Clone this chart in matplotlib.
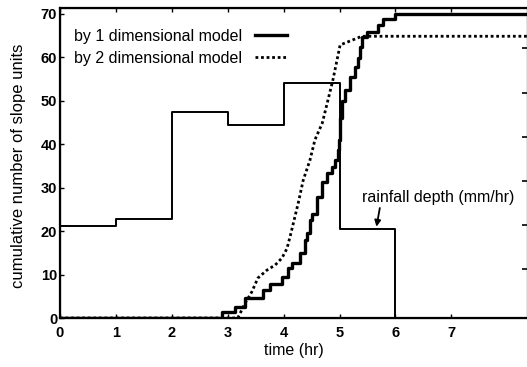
import numpy as np
import matplotlib
matplotlib.use('Agg')
import matplotlib.pyplot as plt

plt.rcParams['font.family'] = ['Liberation Sans', 'DejaVu Sans']

# rainfall depth (mm/hr), hourly steps, drawn on the left scale
rain_t = [0, 1, 2, 3, 4, 5, 6]
rain_v = [21.1, 22.8, 47.3, 44.5, 54.0, 20.5, 0]

# 1 dimensional model, cumulative slope units (staircase)
t1 = [0, 2.90, 3.13, 3.31, 3.63, 3.76, 3.97, 4.08, 4.15, 4.29, 4.38, 4.42,
      4.47, 4.51, 4.60, 4.69, 4.78, 4.87, 4.92, 4.97, 4.99, 5.01, 5.04, 5.10,
      5.19, 5.28, 5.33, 5.37, 5.40, 5.49, 5.69, 5.78, 5.99, 8.4]
n1 = [0, 1.4, 2.5, 4.6, 6.4, 7.8, 9.4, 11.5, 12.6, 15.0, 18.0, 19.5,
      22.5, 24.0, 27.8, 31.3, 33.3, 34.7, 36.3, 38.6, 41.0, 46.0, 50.0, 52.4,
      55.4, 57.7, 59.8, 62.3, 64.6, 65.7, 67.4, 68.7, 69.9, 69.9]

# 2 dimensional model
t2 = [0, 3.18, 3.31, 3.43, 3.54, 3.70, 3.85, 3.97, 4.06, 4.13, 4.26, 4.35,
      4.47, 4.56, 4.69, 4.88, 5.01, 5.40, 8.4]
n2 = [0, 0, 3.4, 6.0, 9.2, 11.0, 12.2, 13.8, 16.0, 19.5, 26.4, 31.7,
      36.3, 41.0, 44.8, 54.7, 62.8, 64.8, 64.8]

xticks = [0, 1, 2, 3, 4, 5, 6, 7]
yticks = [0, 10, 20, 30, 40, 50, 60, 70]
rain_ticks = [11.3, 21.4, 31.5, 41.6, 51.7, 62.1]

fig = plt.figure(figsize=(5.27, 3.67), dpi=100)
ax = fig.add_axes([60 / 527, 49 / 367, 468 / 527, 310 / 367])

ax.step(rain_t + [8.4], rain_v + [0], where='post', color='black', lw=1.4)
ax.step(t1, n1, where='post', color='black', lw=2.4, label='by 1 dimensional model')
ax.plot(t2, n2, color='black', lw=2.0, ls=(0, (1, 1)), label='by 2 dimensional model')

ax.set_xlim(0, 8.37)
ax.set_ylim(0, 71.3)
ax.set_xticks(xticks)
ax.set_yticks(yticks)
ax.tick_params(direction='in', length=3, width=1, labelsize=10.5, top=True)
ax.tick_params(axis='x', pad=6)
ax.tick_params(axis='y', pad=2)
for lab in ax.get_xticklabels() + ax.get_yticklabels():
    lab.set_fontweight('bold')
for s in ax.spines.values():
    s.set_linewidth(1.6)

ax2 = ax.twinx()
ax2.set_ylim(0, 71.3)
ax2.set_yticks(rain_ticks)
ax2.set_yticklabels([])
ax2.tick_params(direction='in', length=4, width=1.2)
ax2.spines['right'].set_visible(False)

ax.set_xlabel('time (hr)', fontsize=11.5, labelpad=2)
ax.set_ylabel('cumulative number of slope units', fontsize=12, labelpad=4)
ax.yaxis.set_label_coords(-0.072, 0.49)

leg = ax.legend(loc='upper left', bbox_to_anchor=(0.0, 0.98), frameon=False,
                fontsize=11.5, markerfirst=False, handlelength=2.0,
                handletextpad=0.8, labelspacing=0.45)

ax.text(5.40, 27.8, 'rainfall depth (mm/hr)', fontsize=11.5, ha='left', va='center')
ax.annotate('', xy=(5.66, 21.0), xytext=(5.72, 25.3),
            arrowprops=dict(arrowstyle='-|>', color='black', lw=1.3,
                            mutation_scale=9, shrinkA=0, shrinkB=0))

fig.savefig('out.png', dpi=100)
